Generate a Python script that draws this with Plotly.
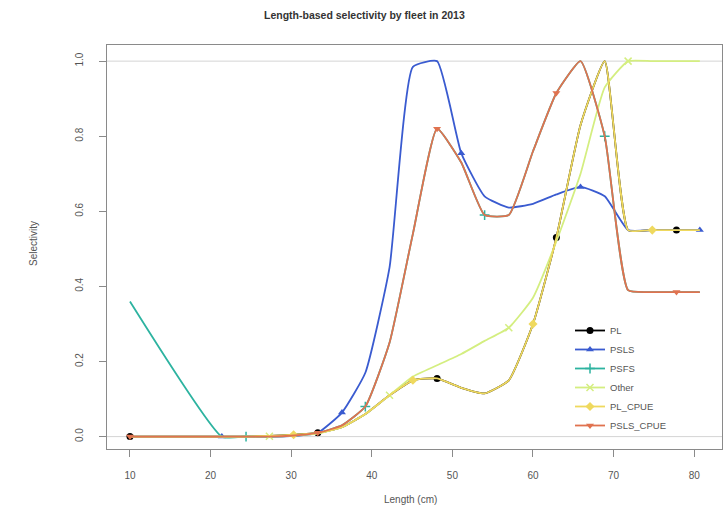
import plotly.graph_objects as go

# ---- data ----
lengths = [10, 21.4, 24.4, 27.3, 30.3, 33.3, 36.3, 39.2, 42.2, 45.1, 48.1,
           51.1, 54.0, 57.0, 60.0, 62.9, 65.9, 68.9, 71.8, 74.8, 77.8, 80.7]

pl = [0, 0, 0, 0.002, 0.005, 0.01, 0.025, 0.06, 0.11, 0.15, 0.155,
      0.13, 0.115, 0.15, 0.30, 0.53, 0.83, 1.0, 0.55, 0.55, 0.55, 0.55]
psls = [0, 0, 0, 0, 0.002, 0.01, 0.064, 0.17, 0.45, 0.985, 1.0,
        0.755, 0.64, 0.61, 0.62, 0.645, 0.665, 0.64, 0.55, 0.55, 0.55, 0.55]
psfs = [0.36, 0, 0, 0, 0.003, 0.01, 0.03, 0.08, 0.25, 0.54, 0.82,
        0.73, 0.59, 0.59, 0.76, 0.915, 1.0, 0.80, 0.39, 0.385, 0.385, 0.385]
other = [0, 0, 0, 0.001, 0.003, 0.008, 0.025, 0.06, 0.11, 0.16, 0.19,
         0.22, 0.255, 0.29, 0.37, 0.52, 0.70, 0.93, 1.0, 1.0, 1.0, 1.0]
pl_cpue = [0, 0, 0, 0.002, 0.005, 0.01, 0.025, 0.06, 0.11, 0.15, 0.155,
           0.13, 0.115, 0.15, 0.30, 0.53, 0.83, 1.0, 0.55, 0.55, 0.55, 0.55]
psls_cpue = [0, 0, 0, 0, 0.003, 0.01, 0.03, 0.08, 0.25, 0.54, 0.82,
             0.73, 0.59, 0.59, 0.76, 0.915, 1.0, 0.80, 0.39, 0.385, 0.385, 0.385]

series_names = ["PL", "PSLS", "PSFS", "Other", "PL_CPUE", "PSLS_CPUE"]
series_values = [pl, psls, psfs, other, pl_cpue, psls_cpue]

x_ticks = [10, 20, 30, 40, 50, 60, 70, 80]
y_ticks = [0.0, 0.2, 0.4, 0.6, 0.8, 1.0]
y_ticktext = ["0.0", "0.2", "0.4", "0.6", "0.8", "1.0"]
ref_levels = [0, 1]

title_text = "Length-based selectivity by fleet in 2013"
x_title = "Length (cm)"
y_title = "Selectivity"

# ---- styles ----
colors = ["#000000", "#3A5BD0", "#2DB3A0", "#D4EE80", "#EFD95E", "#E0724F"]
symbols = ["circle", "triangle-up", "cross-thin", "x-thin", "diamond", "triangle-down"]

W, H = 724, 515
ml, mr, mt, mb = 107, 2, 45, 66
pw, ph = W - ml - mr, H - mt - mb

fig = go.Figure()

for k, (name, vals) in enumerate(zip(series_names, series_values)):
    col = colors[k]
    sym = symbols[k]
    mk_x = [x for i, x in enumerate(lengths) if i % 5 == k % 5]
    mk_y = [y for i, y in enumerate(vals) if i % 5 == k % 5]
    thin = sym.endswith("-thin")
    mstyle = dict(symbol=sym, size=7, color=col,
                  line=dict(color=col, width=1.5 if thin else 0))
    fig.add_trace(go.Scatter(
        x=lengths, y=vals, mode="lines", name=name, legendgroup=name,
        showlegend=False,
        line=dict(color=col, width=1.8, shape="spline", smoothing=0.45),
        hoverinfo="skip"))
    fig.add_trace(go.Scatter(
        x=mk_x, y=mk_y, mode="markers", name=name, legendgroup=name,
        showlegend=False, marker=mstyle))
    fig.add_trace(go.Scatter(
        x=[None], y=[None], mode="lines+markers", name=name, legendgroup=name,
        showlegend=True, line=dict(color=col, width=1.8), marker=mstyle))

for lv in ref_levels:
    fig.add_hline(y=lv, line=dict(color="#D4D4D4", width=1), layer="below")

axis_common = dict(showgrid=False, zeroline=False, showline=True, mirror=True,
                   linecolor="#8A8A8A", linewidth=1, ticks="outside",
                   ticklen=7, tickcolor="#8A8A8A",
                   tickfont=dict(family="Liberation Sans, Arial", size=10, color="#555555"))

fig.update_layout(
    width=W, height=H,
    margin=dict(l=ml, r=mr, t=mt, b=mb),
    paper_bgcolor="white", plot_bgcolor="white",
    xaxis=dict(range=[7.15, 83.45], tickvals=x_ticks, ticklabelstandoff=10, **axis_common),
    yaxis=dict(range=[-0.033, 1.043], tickvals=y_ticks, ticktext=y_ticktext,
               tickangle=-90, ticklabelstandoff=12, **axis_common),
    legend=dict(x=(570 - ml) / pw, y=1 - (316 - mt) / ph, xanchor="left", yanchor="top",
                bgcolor="rgba(0,0,0,0)", borderwidth=0,
                font=dict(family="Liberation Sans, Arial", size=9.5, color="#555555"),
                tracegroupgap=0),
    showlegend=True,
    annotations=[
        dict(text="<b>" + title_text + "</b>", xref="paper", yref="paper",
             x=(364 - ml) / pw, y=1 + (mt - 15) / ph, showarrow=False,
             xanchor="center", yanchor="middle",
             font=dict(family="Liberation Sans, Arial", size=10.5, color="#333333")),
        dict(text=x_title, xref="paper", yref="paper",
             x=(410 - ml) / pw, y=-(500 - mt - ph) / ph, showarrow=False,
             xanchor="center", yanchor="middle",
             font=dict(family="Liberation Sans, Arial", size=10, color="#555555")),
        dict(text=y_title, xref="paper", yref="paper",
             x=-(ml - 33) / pw, y=1 - (244 - mt) / ph, showarrow=False, textangle=-90,
             xanchor="center", yanchor="middle",
             font=dict(family="Liberation Sans, Arial", size=10, color="#555555")),
    ],
)

fig.write_html("out.html")
